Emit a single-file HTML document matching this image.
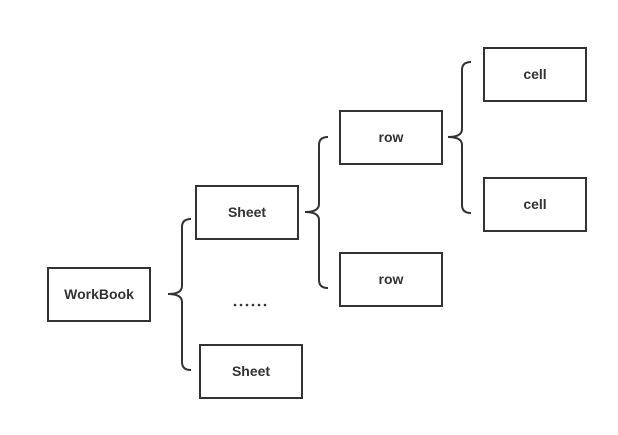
<!DOCTYPE html>
<html><head><style>body{margin:0;background:#fff}</style></head><body>
<svg width="618" height="430" xmlns="http://www.w3.org/2000/svg" font-family="Liberation Sans, sans-serif" font-weight="bold" font-size="14" fill="#333">
<g fill="none" stroke="#333" stroke-width="2">
<rect x="48" y="268" width="102" height="53"/>
<rect x="196" y="186" width="102" height="53"/>
<rect x="200" y="345" width="102" height="53"/>
<rect x="340" y="111" width="102" height="53"/>
<rect x="340" y="253" width="102" height="53"/>
<rect x="484" y="48" width="102" height="53"/>
<rect x="484" y="178" width="102" height="53"/>
<path d="M191 219 Q182 219 182 227 L182 286 Q182 294 168 294 Q182 294 182 302 L182 362 Q182 370 191 370"/>
<path d="M328 137 Q319 137 319 145 L319 204 Q319 212 305 212 Q319 212 319 220 L319 280 Q319 288 328 288"/>
<path d="M471 62 Q462 62 462 70 L462 129 Q462 137 448 137 Q462 137 462 145 L462 205 Q462 213 471 213"/>
</g>
<g text-anchor="middle" fill="#333">
<text x="99" y="299">WorkBook</text>
<text x="247" y="217">Sheet</text>
<text x="251" y="376">Sheet</text>
<text x="391" y="142">row</text>
<text x="391" y="284">row</text>
<text x="535" y="79">cell</text>
<text x="535" y="209">cell</text>
</g>
<g fill="#333">
<circle cx="235" cy="305" r="1.3"/><circle cx="241" cy="305" r="1.3"/><circle cx="247" cy="305" r="1.3"/>
<circle cx="253" cy="305" r="1.3"/><circle cx="259" cy="305" r="1.3"/><circle cx="265" cy="305" r="1.3"/>
</g>
</svg>
</body></html>
